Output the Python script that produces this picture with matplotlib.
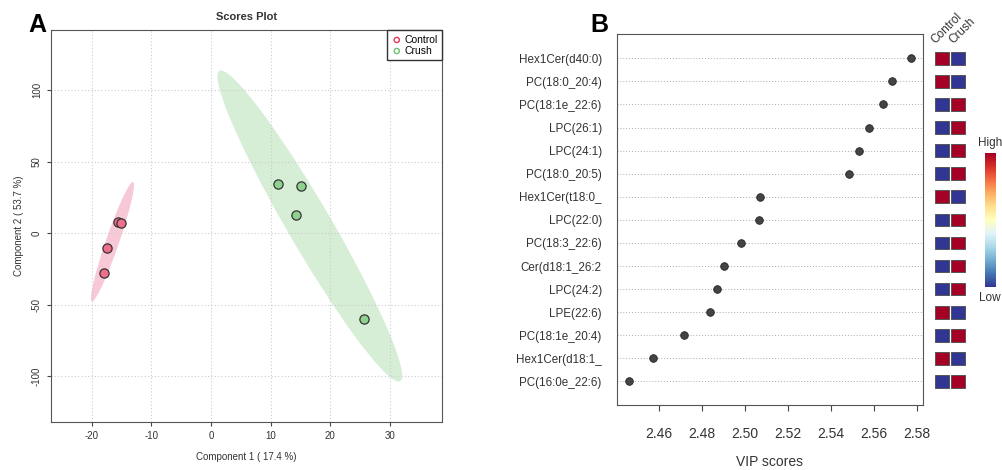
"""
Scores plot (PLS-DA) and VIP scores panel
"""

import numpy as np
import matplotlib
matplotlib.use('Agg')
import matplotlib.pyplot as plt
from matplotlib.patches import Ellipse
from matplotlib import cm, colors

plt.rcParams['font.family'] = ['Liberation Sans', 'DejaVu Sans']
plt.rcParams['axes.unicode_minus'] = False

# Panel A data
control_x = [-15.5, -15.0, -17.5, -18.0]
control_y = [7.5, 7.3, -10.5, -28.2]
crush_x = [11.2, 15.1, 14.2, 25.7]
crush_y = [34.5, 32.7, 12.6, -60.0]

# Panel B data (top to bottom)
features = ['Hex1Cer(d40:0)', 'PC(18:0_20:4)', 'PC(18:1e_22:6)', 'LPC(26:1)',
            'LPC(24:1)', 'PC(18:0_20:5)', 'Hex1Cer(t18:0_', 'LPC(22:0)',
            'PC(18:3_22:6)', 'Cer(d18:1_26:2', 'LPC(24:2)', 'LPE(22:6)',
            'PC(18:1e_20:4)', 'Hex1Cer(d18:1_', 'PC(16:0e_22:6)']
vip_scores = [2.5773, 2.5686, 2.5644, 2.5579, 2.5531, 2.5486, 2.5069, 2.5066,
              2.4980, 2.4903, 2.4870, 2.4836, 2.4714, 2.4572, 2.4457]
control_level = [1, 1, 0, 0, 0, 0, 1, 0, 0, 0, 0, 1, 0, 1, 0]
crush_level = [0, 0, 1, 1, 1, 1, 0, 1, 1, 1, 1, 0, 1, 0, 1]
vip_ticks = [2.46, 2.48, 2.50, 2.52, 2.54, 2.56, 2.58]

W, H = 1002, 470


def px_axes(fig, x0, y0, x1, y1):
    """Add axes from pixel box (top-left origin)."""
    return fig.add_axes([x0 / W, 1 - y1 / H, (x1 - x0) / W, (y1 - y0) / H])


def conf_ellipse(x, y, scale=2.4477, **kw):
    """95% confidence ellipse from sample covariance."""
    x, y = np.asarray(x), np.asarray(y)
    cov = np.cov(x, y)
    vals, vecs = np.linalg.eigh(cov)
    order = vals.argsort()[::-1]
    vals, vecs = vals[order], vecs[:, order]
    angle = np.degrees(np.arctan2(vecs[1, 0], vecs[0, 0]))
    w, h = 2 * scale * np.sqrt(vals)
    return Ellipse((x.mean(), y.mean()), w, h, angle=angle, **kw)


fig = plt.figure(figsize=(W / 100, H / 100), dpi=100)

# ---- Panel A ----
ax = px_axes(fig, 51, 30, 442, 422)
ax.set_xlim(-26.8, 38.7)
ax.set_ylim(-132, 142)
ax.add_patch(conf_ellipse(control_x, control_y, color='#F7C9D6', lw=0, zorder=1))
ax.add_patch(conf_ellipse(crush_x, crush_y, color='#D6EDD6', lw=0, zorder=1))
ax.scatter(control_x, control_y, s=44, c='#EE6E8C', edgecolors='#333333',
           linewidths=0.9, zorder=3)
ax.scatter(crush_x, crush_y, s=44, c='#8FD18F', edgecolors='#333333',
           linewidths=0.9, zorder=3)
ax.set_xticks([-20, -10, 0, 10, 20, 30])
ax.set_yticks([-100, -50, 0, 50, 100])
ax.grid(True, ls=(0, (1, 2)), color='#cccccc', lw=0.8, zorder=0)
ax.tick_params(labelsize=7, length=3, color='#444444', labelcolor='#333333')
for lbl in ax.get_yticklabels():
    lbl.set_rotation(90)
    lbl.set_va('center')
for s in ax.spines.values():
    s.set_color('#555555')
ax.set_xlabel('Component 1 ( 17.4 %)', fontsize=7, color='#333333', labelpad=8)
ax.set_ylabel('Component 2 ( 53.7 %)', fontsize=7, color='#333333', labelpad=6)
ax.set_title('Scores Plot', fontsize=8, fontweight='bold', color='#333333', pad=7)
h1 = ax.scatter([], [], s=14, facecolors='none', edgecolors='#E8365F', lw=1)
h2 = ax.scatter([], [], s=14, facecolors='none', edgecolors='#6CC46C', lw=1)
leg = ax.legend([h1, h2], ['Control', 'Crush'], loc='upper right', fontsize=7.5,
                fancybox=False, framealpha=1, edgecolor='#333333',
                borderaxespad=0, handletextpad=0.2, borderpad=0.45,
                labelspacing=0.1, handlelength=1.0)
leg.get_frame().set_linewidth(1.0)
fig.text(28 / W, 1 - 25 / H, 'A', fontsize=18, fontweight='bold', va='center')

# ---- Panel B ----
rows = np.arange(len(features))[::-1] + 1
bx = px_axes(fig, 617, 34.3, 922.7, 405)
bx.set_xlim(2.4403, 2.5828)
bx.set_ylim(-0.02, 16.04)
for r in rows:
    bx.axhline(r, ls=(0, (1, 2)), color='#aaaaaa', lw=0.7, zorder=0)
bx.scatter(vip_scores, rows, s=30, c='#444444', edgecolors='#222222',
           linewidths=0.6, zorder=3)
bx.set_yticks(rows)
bx.set_yticklabels(features, fontsize=8.4, color='#333333')
bx.tick_params(axis='y', length=0, pad=11)
bx.set_xticks(vip_ticks)
bx.set_xticklabels([f'{t:.2f}' for t in vip_ticks], fontsize=10, color='#333333')
bx.tick_params(axis='x', length=4, pad=12, color='#444444')
for s in bx.spines.values():
    s.set_color('#555555')
bx.set_xlabel('VIP scores', fontsize=10, color='#333333', labelpad=10)
fig.text(590 / W, 1 - 25 / H, 'B', fontsize=18, fontweight='bold', va='center')

# heatmap squares
cmap = plt.get_cmap('RdYlBu_r')
hx = px_axes(fig, 930, 34.3, 968, 405)
hx.set_xlim(0, 2.4)
hx.set_ylim(-0.02, 16.04)
hx.axis('off')
hx.barh(rows, 0.9, left=0.75 - 0.45, height=0.55,
        color=[cmap(float(v)) for v in control_level], edgecolor='#555555', lw=0.7)
hx.barh(rows, 0.9, left=1.75 - 0.45, height=0.55,
        color=[cmap(float(v)) for v in crush_level], edgecolor='#555555', lw=0.7)
hx.text(0.35, 15.62, 'Control', rotation=45, fontsize=8.5, color='#333333',
        ha='left', va='baseline', rotation_mode='anchor', clip_on=False)
hx.text(1.45, 15.62, 'Crush', rotation=45, fontsize=8.5, color='#333333',
        ha='left', va='baseline', rotation_mode='anchor', clip_on=False)

# colorbar
cx = px_axes(fig, 985, 153, 996, 287)
cb = fig.colorbar(cm.ScalarMappable(norm=colors.Normalize(0, 1), cmap=cmap),
                  cax=cx, orientation='vertical')
cb.set_ticks([])
cb.outline.set_visible(False)
fig.text(990 / W, 1 - 149 / H, 'High', fontsize=8.5, ha='center', va='bottom',
         color='#333333')
fig.text(990 / W, 1 - 292 / H, 'Low', fontsize=8.5, ha='center', va='top',
         color='#333333')

fig.savefig('out.png', dpi=100)
